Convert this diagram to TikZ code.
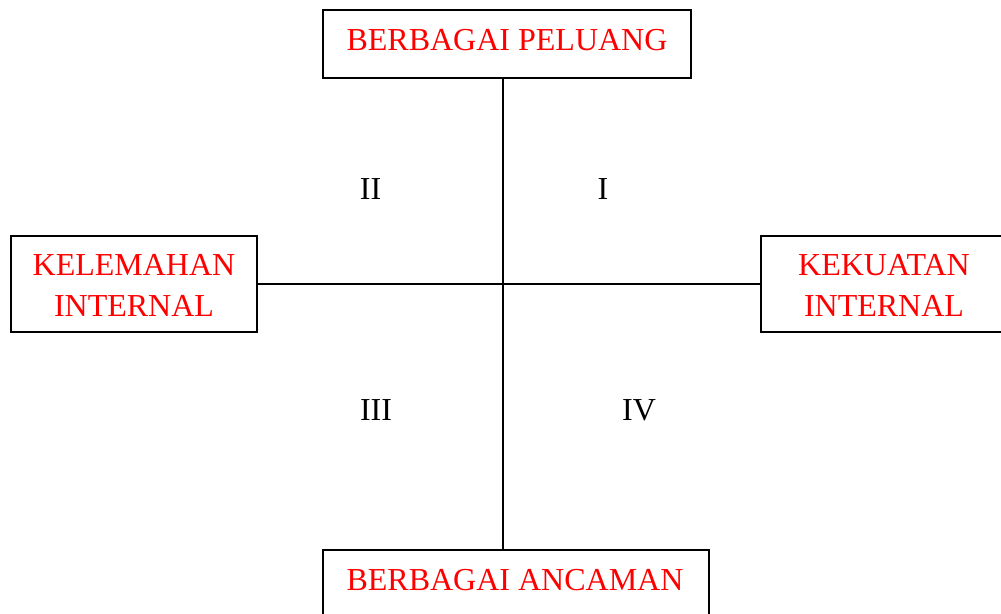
\documentclass[tikz,border=0pt]{standalone}
\usepackage{fontspec}
\setmainfont{Liberation Serif}
\definecolor{lblred}{RGB}{255,0,0}
\begin{document}
\begin{tikzpicture}[x=1pt,y=-1pt,
  box/.style={draw=black,line width=2pt,rectangle,inner sep=0pt},
  boxtext/.style={text=lblred,font=\fontsize{32}{41}\selectfont,anchor=base,inner sep=0pt},
  quad/.style={text=black,font=\fontsize{32}{38}\selectfont,anchor=base,inner sep=0pt}]
\useasboundingbox (0,0) rectangle (1001,613);

% frames
\node[box,minimum width=368pt,minimum height=68pt] (top) at (507,44) {};
\node[box,minimum width=246pt,minimum height=96pt] (left) at (134,284) {};
\node[box,minimum width=246pt,minimum height=96pt] (right) at (884,284) {};
\node[box,minimum width=386pt,minimum height=70pt] (bot) at (516,585) {};

% labels in the frames
\node[boxtext] (ttop) at (507,50) {BERBAGAI PELUANG};
\node[boxtext] (tl1) at (134,275) {KELEMAHAN};
\node[boxtext] (tl2) at (134,316) {INTERNAL};
\node[boxtext] (tr1) at (884,275) {KEKUATAN};
\node[boxtext] (tr2) at (884,316) {INTERNAL};
\node[boxtext] (tbot) at (515,590) {BERBAGAI ANCAMAN};

% axes
\coordinate (c) at (503,284);
\draw[line width=2pt] (top.south -| c) -- (bot.north -| c);
\draw[line width=2pt] (left.east |- c) -- (right.west |- c);

% quadrant numbers
\node[quad] (q1) at (603,199) {I};
\node[quad] (q2) at (370.5,199) {II};
\node[quad] (q3) at (376,420) {III};
\node[quad] (q4) at (639,420) {IV};
\end{tikzpicture}
\end{document}
